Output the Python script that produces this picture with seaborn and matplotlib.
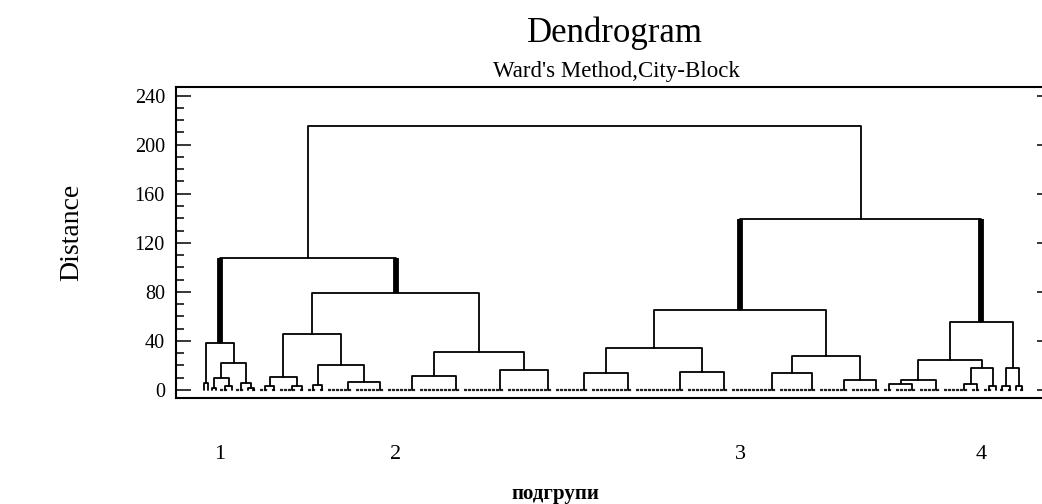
import numpy as np
import pandas as pd
import matplotlib
matplotlib.use("Agg")
import matplotlib.pyplot as plt
from matplotlib.ticker import MultipleLocator
import seaborn as sns

# observations that are joined at distance 0, as blocks from left to right
block_sizes = [1, 1, 1, 1, 3, 1, 3, 1, 2,
               3, 2, 5, 2, 3, 2, 7, 8, 8, 11, 11, 12,
               9, 11, 13, 11, 12, 10, 8, 8,
               3, 6, 6, 7, 3, 3, 1, 2, 2, 1, 2]

# agglomeration steps: ids 0..39 are the blocks, step k makes id 40 + k
merge_a = [0, 2, 4, 41, 7, 6, 43, 40,
           9, 11, 48, 13, 15, 51, 50, 17, 19, 55, 54, 47,
           21, 23, 60, 25, 27, 63, 62,
           29, 67, 32, 34, 69, 68, 36, 38, 73, 72, 66, 59]
merge_b = [1, 3, 5, 42, 8, 44, 45, 46,
           10, 12, 49, 14, 16, 52, 53, 18, 20, 56, 57, 58,
           22, 24, 61, 26, 28, 64, 65,
           30, 31, 33, 35, 70, 71, 37, 39, 74, 75, 76, 77]
merge_h = [6, 1.5, 3, 10, 2, 5.4, 21.8, 38,
           3, 3, 10.6, 4, 6.8, 20.4, 46, 11.7, 16.3, 31.3, 79, 108,
           13.6, 15, 34.5, 13.6, 8.2, 28, 65.3,
           4.9, 8.2, 5, 3.3, 18.2, 24.5, 3, 3, 18.2, 55.8, 139, 215]

# the four subgroups (cut of the tree) and their labels
cluster_ids = [47, 58, 66, 76]
cluster_labels = ["1", "2", "3", "4"]

sns.set_style("ticks")
plt.rcParams['font.family'] = ['Liberation Serif', 'DejaVu Serif']
plt.rcParams.update({
    "text.color": "black",
    "axes.labelcolor": "black",
    "axes.edgecolor": "black",
    "xtick.color": "black",
    "ytick.color": "black",
})

# layout of the tree
n_blocks = len(block_sizes)
starts = np.concatenate([[0], np.cumsum(block_sizes)[:-1]])
node_x, node_h, parent = {}, {}, {}
base_rows = []
for i, (s, n) in enumerate(zip(starts, block_sizes)):
    x = float(s)
    for k in range(1, n):
        x = (x + s + k) / 2
    node_x[i] = x
    node_h[i] = 0.0
    if n > 1:
        base_rows += [(i, s, 0.0), (i, s + n - 1, 0.0)]

seg_rows = []
for k, (a, b, h) in enumerate(zip(merge_a, merge_b, merge_h)):
    nid = n_blocks + k
    node_x[nid] = (node_x[a] + node_x[b]) / 2
    node_h[nid] = h
    parent[a] = nid
    parent[b] = nid
    seg_rows += [(nid, node_x[a], node_h[a]), (nid, node_x[a], h),
                 (nid, node_x[b], h), (nid, node_x[b], node_h[b])]

thick_rows = []
for c in cluster_ids:
    thick_rows += [(c, node_x[c], node_h[c]), (c, node_x[c], node_h[parent[c]])]

seg_df = pd.DataFrame(seg_rows, columns=['seg', 'x', 'y'])
base_df = pd.DataFrame(base_rows, columns=['seg', 'x', 'y'])
thick_df = pd.DataFrame(thick_rows, columns=['seg', 'x', 'y'])

fig = plt.figure(figsize=(10.42, 5.04), dpi=100)
ax = fig.add_axes([176 / 1042, 106 / 504, 876 / 1042, 311 / 504])

sns.lineplot(data=base_df, x='x', y='y', units='seg', estimator=None, sort=False,
             color='#222222', linewidth=1.6, linestyle=(0, (1.4, 0.4)), ax=ax)
sns.lineplot(data=seg_df, x='x', y='y', units='seg', estimator=None, sort=False,
             color='black', linewidth=1.3, ax=ax)
sns.lineplot(data=thick_df, x='x', y='y', units='seg', estimator=None, sort=False,
             color='black', linewidth=4.2, solid_capstyle='butt', ax=ax)

ax.set_xlim(-7, 212)
ax.set_ylim(-6.5, 247)
ax.yaxis.set_major_locator(MultipleLocator(40))
ax.yaxis.set_minor_locator(MultipleLocator(10))
ax.tick_params(axis='y', which='major', direction='in', length=11, width=1.1,
               left=True, right=True, labelsize=14.5, pad=8)
ax.tick_params(axis='y', which='minor', direction='in', length=6, width=1.1,
               left=True, right=False)
ax.set_xticks([node_x[c] for c in cluster_ids])
ax.set_xticklabels(cluster_labels)
ax.tick_params(axis='x', length=0, pad=34, labelsize=16)
for sp in ax.spines.values():
    sp.set_linewidth(1.5)

ax.set_ylabel("Distance", fontsize=20)
ax.yaxis.set_label_coords(-0.105, 0.534)
ax.set_xlabel("подгрупи", fontsize=15, fontweight='bold')
ax.xaxis.set_label_coords(0.4326, -0.277)

fig.text(615 / 1042, 1 - 33 / 504, "Dendrogram", ha='center', va='center', fontsize=25)
fig.text(616 / 1042, 1 - 71 / 504, "Ward's Method,City-Block", ha='center', va='center', fontsize=16.5)

fig.savefig("out.png", dpi=100)
